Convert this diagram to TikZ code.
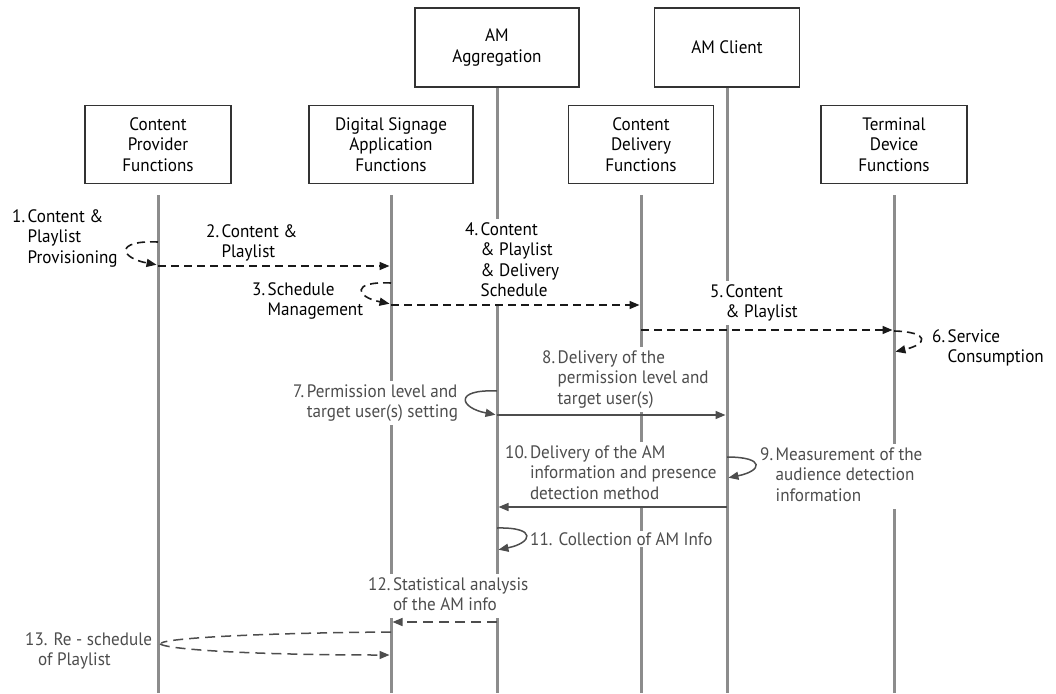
\documentclass[tikz,border=0pt]{standalone}
\usepackage{fontspec}
\setmainfont{PT Sans}[FakeStretch=0.95]
\usetikzlibrary{arrows.meta}
\definecolor{lifecol}{HTML}{8C8C8C}
\definecolor{msggray}{HTML}{4D4D4D}
\definecolor{boxline}{HTML}{333333}
\newcommand{\hlab}[2]{\begin{tabular}[t]{@{}l@{\hspace{2.5pt}}l@{}}#1&#2\end{tabular}}
\begin{document}
\begin{tikzpicture}[x=1pt,y=-1pt,
  font=\fontsize{18}{20.5}\selectfont,
  box/.style={draw=boxline,line width=1.4pt,align=center,minimum height=78pt,inner sep=0pt},
  lifeline/.style={draw=lifecol,line width=3pt},
  tip/.style={-{Triangle[length=10pt,width=8pt]},shorten >=1.5pt},
  blkdash/.style={draw=black!90,line width=1.6pt,dash pattern=on 8pt off 5pt,tip},
  graysolid/.style={draw=msggray,line width=1.5pt,tip},
  graydash/.style={draw=msggray,line width=1.5pt,dash pattern=on 10pt off 6pt,tip},
  lab/.style={anchor=base west,fill=white,inner sep=1.5pt,align=left},
  glab/.style={lab,text=msggray}
]
\useasboundingbox (0,0) rectangle (1056,693);

% boxes
\node[box,minimum width=146pt] (cp) at (158,144.5) {Content\\Provider\\Functions};
\node[box,minimum width=164pt] (ds) at (391,144.5) {Digital Signage\\Application\\Functions};
\node[box,minimum width=164pt,minimum height=79pt] (ama) at (497,47.5) {AM\\Aggregation};
\node[box,minimum width=145pt] (cd) at (641,144.5) {Content\\Delivery\\Functions};
\node[box,minimum width=145pt,minimum height=79pt] (amc) at (727,47.5) {AM Client};
\node[box,minimum width=146pt] (td) at (894,144.5) {Terminal\\Device\\Functions};

% lifelines
\coordinate (cpT) at (158,195); \coordinate (cpB) at (158,693);
\coordinate (dsT) at (391,195); \coordinate (dsB) at (391,693);
\coordinate (amaB) at (497,693);
\coordinate (cdT) at (641,195); \coordinate (cdB) at (641,693);
\coordinate (amcB) at (727,693);
\coordinate (tdT) at (894,195); \coordinate (tdB) at (894,693);
\draw[lifeline] (cpT) -- (cpB);
\draw[lifeline] (dsT) -- (dsB);
\draw[lifeline] (ama.south) -- (amaB);
\draw[lifeline] (cdT) -- (cdB);
\draw[lifeline] (amc.south) -- (amcB);
\draw[lifeline] (tdT) -- (tdB);

% labels
\node[lab] (l1) at (10.5,222) {\hlab{1.}{Content \&\\&Playlist\\&Provisioning}};
\node[lab] (l2) at (204.5,237) {\hlab{2.}{Content \&\\&Playlist}};
\node[lab] (l3) at (250.5,295) {\hlab{3.}{Schedule\\&Management}};
\node[lab] (l4) at (463.5,235) {\hlab{4.}{Content\\&\& Playlist\\&\& Delivery\\&Schedule}};
\node[lab] (l5) at (708.5,297) {\hlab{5.}{Content\\&\& Playlist}};
\node[lab] (l6) at (930.5,342) {\hlab{6.}{Service\\&Consumption}};
\node[glab] (l7) at (291.5,397) {\hlab{7.}{Permission level and\\&target user(s) setting}};
\node[glab] (l8) at (540.5,363) {\hlab{8.}{Delivery of the\\&permission level and\\&target user(s)}};
\node[glab] (l9) at (758.5,460) {\hlab{9.}{Measurement of the\\&audience detection\\&information}};
\node[glab] (l10) at (503.5,458) {\hlab{10.}{Delivery of the AM\\&information and presence\\&detection method}};
\node[glab] (l11) at (528.5,545) {11. Collection of AM Info};
\node[glab] (l12) at (366.5,590) {\hlab{12.}{Statistical analysis\\&of the AM info}};
\node[glab] (l13) at (23.5,645) {\begin{tabular}[t]{@{}l@{}}13. Re - schedule\\\hspace{13pt}of Playlist\end{tabular}};

% message coordinates
\coordinate (m1s) at (158,242); \coordinate (m1e) at (158,265);
\coordinate (m2s) at (158,266); \coordinate (m2e) at (391,266);
\coordinate (m3s) at (391,283); \coordinate (m3e) at (391,304);
\coordinate (m4s) at (391,305); \coordinate (m4e) at (641,305);
\coordinate (m5s) at (641,330); \coordinate (m5e) at (894,330);
\coordinate (m6s) at (894,331); \coordinate (m6e) at (894,352);
\coordinate (m7s) at (497,391); \coordinate (m7e) at (497,415);
\coordinate (m8s) at (497,415); \coordinate (m8e) at (727,415);
\coordinate (m9s) at (727,457); \coordinate (m9e) at (727,478);
\coordinate (m10s) at (727,507); \coordinate (m10e) at (497,507);
\coordinate (m11s) at (497,528); \coordinate (m11e) at (497,550);
\coordinate (m12s) at (497,622); \coordinate (m12e) at (391,622);
\coordinate (m13s) at (391,632); \coordinate (m13m) at (160,644); \coordinate (m13e) at (391,655);

% messages
\draw[blkdash] (m1s) .. controls (114,240) and (120,258) .. (m1e);
\draw[blkdash] (m2s) -- (m2e);
\draw[blkdash] (m3s) .. controls (350,281) and (356,297) .. (m3e);
\draw[blkdash] (m4s) -- (m4e);
\draw[blkdash] (m5s) -- (m5e);
\draw[blkdash] (m6s) .. controls (930,332) and (928,344) .. (m6e);
\draw[graysolid] (m7s) .. controls (453,389) and (460,408) .. (m7e);
\draw[graysolid] (m8s) -- (m8e);
\draw[graysolid] (m9s) .. controls (766,457) and (762,471) .. (m9e);
\draw[graysolid] (m10s) -- (m10e);
\draw[graysolid] (m11s) .. controls (538,527) and (532,543) .. (m11e);
\draw[graydash] (m12s) -- (m12e);
\draw[graydash,-] (m13s) .. controls (260,633) and (168,638) .. (m13m);
\draw[graydash] (m13m) .. controls (170,650) and (260,655) .. (m13e);
\end{tikzpicture}
\end{document}
